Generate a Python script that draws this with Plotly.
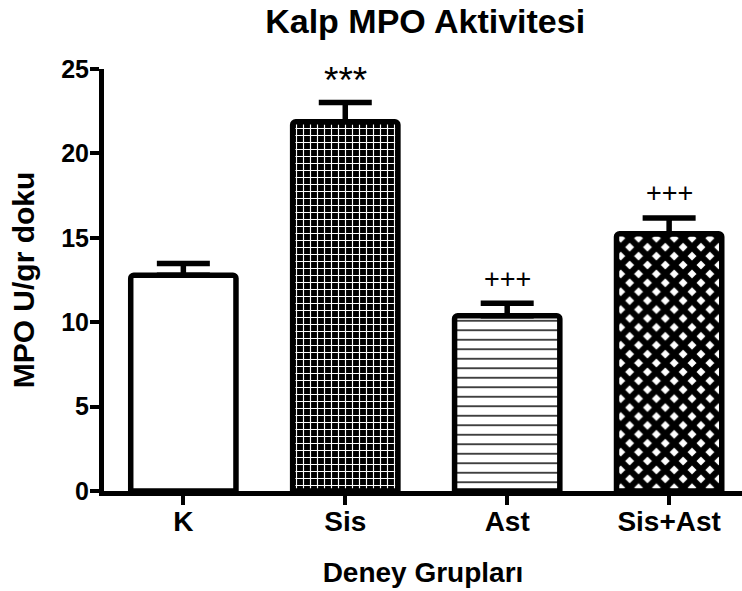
import plotly.graph_objects as go

groups = ["K", "Sis", "Ast", "Sis+Ast"]
means = [12.78, 21.87, 10.38, 15.24]
sems = [0.70, 1.15, 0.74, 0.94]
sig_labels = ["", "***", "+++", "+++"]

FONT = "Liberation Sans, Arial, sans-serif"

# fill style per group: (shape, fg, bg, size, solidity)
styles = [
    ("", "black", "white", 8, 0.3),
    ("+", "white", "black", 7, 0.3),
    ("-", "black", "white", 9.5, 0.15),
    ("x", "black", "white", 12.6, 0.75),
]

fig = go.Figure()
for g, m, s, st in zip(groups, means, sems, styles):
    shape, fg, bg, size, sol = st
    fig.add_trace(go.Bar(
        x=[g], y=[m], width=0.65,
        marker=dict(
            color=bg,
            line=dict(color="black", width=5.5),
            cornerradius=3,
            pattern=dict(shape=shape, fgcolor=fg, bgcolor=bg, size=size,
                         solidity=sol, fillmode="replace"),
        ),
        error_y=dict(type="data", symmetric=False, array=[s],
                     arrayminus=[0], color="black", thickness=5.5, width=26.5),
        showlegend=False,
        hoverinfo="skip",
    ))

for g, m, s, lab in zip(groups, means, sems, sig_labels):
    if lab:
        star = lab == "***"
        fig.add_annotation(
            x=g, y=m + s + 1.45, text=lab, showarrow=False,
            yanchor="middle", yshift=-3 if star else 0,
            font=dict(family=FONT, size=37 if star else 27, color="black"),
        )

fig.update_layout(
    template="none",
    barmode="overlay",
    width=742, height=591,
    margin=dict(l=104, r=0, t=69, b=100, autoexpand=False),
    paper_bgcolor="white", plot_bgcolor="white",
    title=dict(text="Kalp MPO Aktivitesi", x=0.573, xanchor="center",
               y=0.965, yanchor="middle",
               font=dict(family=FONT, size=34, color="black", weight="bold")),
    xaxis=dict(
        automargin=False,
        range=[-0.49, 3.45], showline=True, linewidth=5, linecolor="black",
        ticks="outside", ticklen=9, tickwidth=4, tickcolor="black",
        ticklabelstandoff=-8,
        tickfont=dict(family=FONT, size=28, color="black", weight="bold"),
        showgrid=False, zeroline=False,
        title=dict(text="Deney Grupları", standoff=28,
                   font=dict(family=FONT, size=28, color="black", weight="bold")),
    ),
    yaxis=dict(
        automargin=False,
        range=[0, 25], dtick=5, showline=True, linewidth=5, linecolor="black",
        ticks="outside", ticklen=9, tickwidth=4, tickcolor="black",
        ticklabelstandoff=-4,
        tickfont=dict(family=FONT, size=25, color="black", weight="bold"),
        showgrid=False, zeroline=False,
        title=dict(text="MPO U/gr doku", standoff=19,
                   font=dict(family=FONT, size=30, color="black", weight="bold")),
    ),
)

fig.write_html(
    "out.html",
    config={"displayModeBar": False},
    post_script="document.body.style.margin='0';document.body.style.overflow='hidden';",
)
